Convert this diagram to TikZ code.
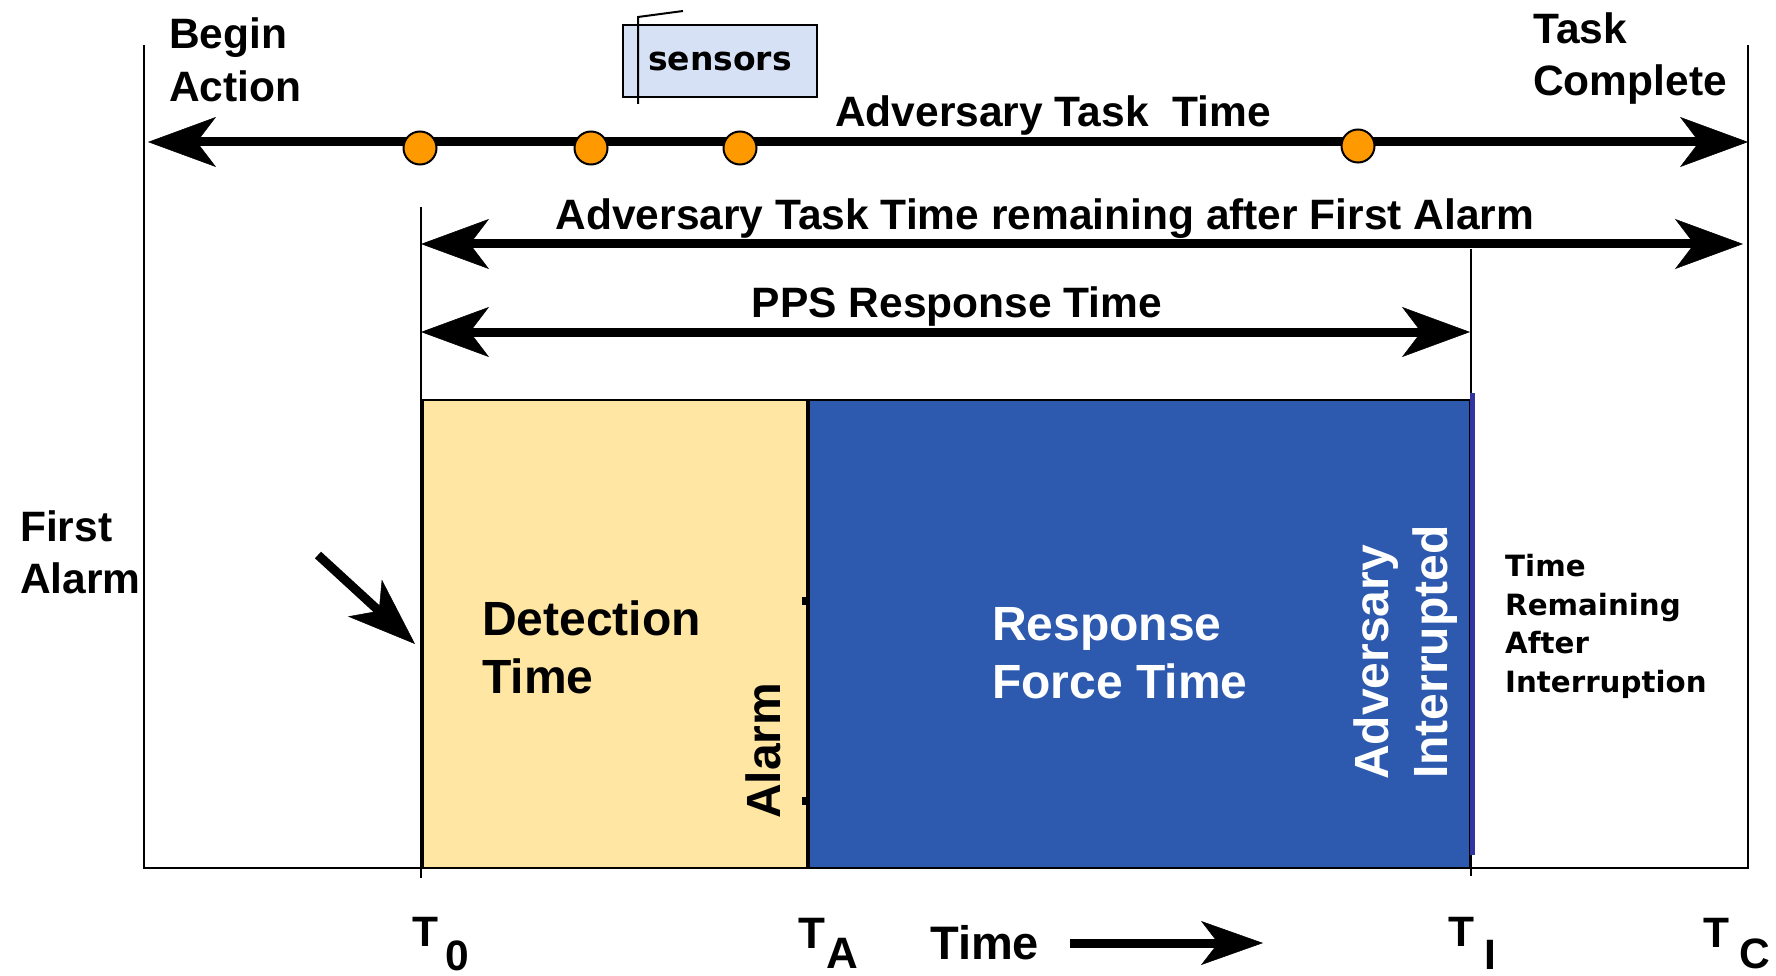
\documentclass[tikz,border=0pt]{standalone}
\usepackage{fontspec}
\setmainfont{Liberation Sans}
\newfontfamily\verd{DejaVu Sans}
\usetikzlibrary{arrows.meta}

\definecolor{detyellow}{RGB}{255,230,163}
\definecolor{respblue}{RGB}{45,90,175}
\definecolor{edgeblue}{RGB}{52,52,160}
\definecolor{dotorange}{RGB}{255,153,0}
\definecolor{sensorfill}{RGB}{215,225,245}

\tikzset{
  thinline/.style={line width=2pt},
  bighead/.tip={Stealth[length=68pt,width=50pt,inset=19pt,line width=0.5pt]},
  bigarrow/.style={line width=9pt,bighead-bighead},
  onearrow/.style={line width=9pt,-bighead},
  lbl/.style={inner sep=0pt,font=\fontsize{42.5}{52}\selectfont\bfseries},
  biglbl/.style={inner sep=0pt,font=\fontsize{48}{57}\selectfont\bfseries},
  smalllbl/.style={inner sep=0pt,font=\verd\fontsize{29.3}{38.5}\selectfont\bfseries},
  dot/.style={circle,draw,line width=2pt,fill=dotorange,minimum size=33pt,inner sep=0pt},
  tick/.style={fill=black,inner sep=0pt,minimum width=4pt,minimum height=8pt}
}

\begin{document}
\begin{tikzpicture}[x=1pt,y=-1pt]
\useasboundingbox (0,0) rectangle (1776,976);

% time axis frame
\coordinate (begin) at (144,45);
\coordinate (end) at (1748,45);
\coordinate (origin) at (144,868);
\coordinate (finish) at (1748,868);
\draw[thinline] (begin) -- (origin) -- (finish) -- (end);

% marker lines at T0 and TI
\coordinate (t0top) at (421,207);
\coordinate (t0bot) at (421,878);
\coordinate (tItop) at (1471,249);
\coordinate (tIbot) at (1471,876);
\draw[thinline] (t0top) -- (t0bot);
\draw[thinline] (tItop) -- (tIbot);

% detection and response blocks
\draw[line width=2.5pt,fill=detyellow] (423,400) rectangle (807,868);
\draw[line width=2.5pt,fill=respblue] (809,400) rectangle (1470,868);
\draw[line width=5pt,edgeblue] (1472,393) -- (1472,855);
\node[tick] (alarmtop) at (804,601) {};
\node[tick] (alarmbot) at (804,801) {};

% overall task time arrow with sensor dots
\coordinate (taskL) at (148,142);
\coordinate (taskR) at (1748,142);
\draw[bigarrow] (taskL) -- (taskR);
\node[dot] (s1) at (420,148) {};
\node[dot] (s2) at (591,148) {};
\node[dot] (s3) at (740,148) {};
\node[dot] (s4) at (1358,146) {};

% remaining time and PPS response arrows
\coordinate (remL) at (421,244);
\coordinate (remR) at (1743,244);
\draw[bigarrow] (remL) -- (remR);
\coordinate (ppsL) at (421,332);
\coordinate (ppsR) at (1470,332);
\draw[bigarrow] (ppsL) -- (ppsR);

% sensors callout
\node[draw,line width=2pt,fill=sensorfill,minimum width=194pt,minimum height=72pt,
      inner sep=0pt,font=\verd\fontsize{33}{40}\selectfont\bfseries] (sensors) at (720,61) {sensors\hspace{14pt}};
\coordinate (leadbot) at (638,104);
\coordinate (leadtop) at (638,17);
\coordinate (leadend) at (683,11);
\draw[thinline] (leadbot) -- (leadtop) -- (leadend);

% top labels
\node[lbl,anchor=base west] (beginlbl) at (169,49) {Begin};
\node[lbl,anchor=base west] (actionlbl) at (169,102) {Action};
\node[lbl,anchor=base west] (tasklbl) at (1533,44) {Task};
\node[lbl,anchor=base west] (completelbl) at (1533,96) {Complete};
\node[lbl,anchor=base] (atime) at (1053,127) {Adversary Task\ \ Time};
\node[lbl,anchor=base] (remlbl) at (1045,230) {Adversary Task Time remaining after First Alarm};
\node[lbl,anchor=base] (ppslbl) at (957,317) {PPS Response Time};

% first alarm label and pointer
\node[lbl,anchor=base west] (firstlbl) at (20,541) {First};
\node[lbl,anchor=base west] (alarmlbl) at (20,593) {Alarm};
\coordinate (ptail) at (318,555);
\coordinate (ptip) at (415,644);
\draw[onearrow] (ptail) -- (ptip);

% block labels
\node[biglbl,anchor=base west] (det1) at (482,635) {Detection};
\node[biglbl,anchor=base west] (det2) at (482,693) {Time};
\node[biglbl,anchor=base west,white] (resp1) at (992,640) {Response};
\node[biglbl,anchor=base west,white] (resp2) at (992,698) {Force Time};
\node[biglbl,anchor=base west,rotate=90] (alarmv) at (780,819) {Alarm};
\node[biglbl,anchor=base west,rotate=90,white] (adv) at (1388,780) {Adversary};
\node[biglbl,anchor=base west,rotate=90,white] (intr) at (1447,779) {Interrupted};

% remaining-time note
\node[smalllbl,anchor=base west] (r1) at (1505,576) {Time};
\node[smalllbl,anchor=base west] (r2) at (1505,615) {Remaining};
\node[smalllbl,anchor=base west] (r3) at (1505,653) {After};
\node[smalllbl,anchor=base west] (r4) at (1505,692) {Interruption};

% time marks on the axis
\node[lbl,anchor=base west] (T0) at (412,946) {T\hspace{7.5pt}\raisebox{-24pt}{0}};
\node[lbl,anchor=base west,font=\fontsize{44}{52}\selectfont\bfseries] (TA) at (798,948) {T\hspace{1.5pt}\raisebox{-20pt}{A}};
\node[lbl,anchor=base west] (TI) at (1448,946) {T\hspace{10pt}\raisebox{-23pt}{I}};
\node[lbl,anchor=base west] (TC) at (1703,947) {T\hspace{10.5pt}\raisebox{-21pt}{C}};

% time direction
\node[inner sep=0pt,font=\fontsize{47}{54}\selectfont\bfseries,anchor=base west] (timelbl) at (930,959) {Time};
\coordinate (tarrL) at (1070,943);
\coordinate (tarrR) at (1263,943);
\draw[line width=9pt,-{Stealth[length=62pt,width=44pt,inset=17pt,line width=0.5pt]}] (tarrL) -- (tarrR);
\end{tikzpicture}
\end{document}
